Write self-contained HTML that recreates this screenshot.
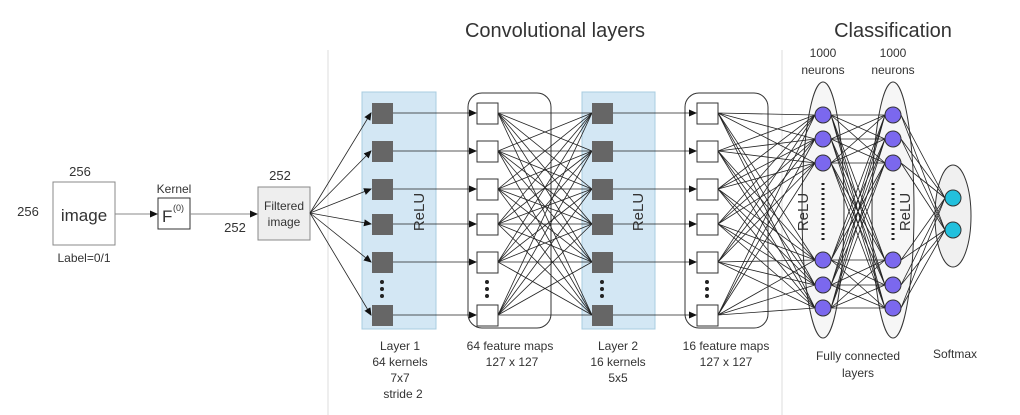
<!DOCTYPE html>
<html><head><meta charset="utf-8"><style>
body{margin:0;background:#fff;width:1020px;height:415px;overflow:hidden}
svg{display:block;font-family:"Liberation Sans",sans-serif}
</style></head><body>
<svg id="s" width="1020" height="415" viewBox="0 0 1020 415" xmlns="http://www.w3.org/2000/svg">
<defs><marker id="a" markerWidth="8" markerHeight="8" refX="7" refY="4" orient="auto" markerUnits="userSpaceOnUse"><path d="M0,0.5 L8,4 L0,7.5z" fill="#111"/></marker></defs>
<text x="555" y="37" font-size="20" text-anchor="middle" fill="#333">Convolutional layers</text>
<text x="893" y="37" font-size="20" text-anchor="middle" fill="#333">Classification</text>
<line x1="328" y1="50" x2="328" y2="415" stroke="#ddd"/>
<line x1="782" y1="50" x2="782" y2="415" stroke="#ddd"/>
<!-- left -->
<rect x="53" y="182" width="62" height="63" fill="#fff" stroke="#888"/>
<text x="84" y="221" font-size="17" text-anchor="middle" fill="#333">image</text>
<text x="80" y="176" font-size="13" text-anchor="middle" fill="#333">256</text>
<text x="28" y="216" font-size="13" text-anchor="middle" fill="#333">256</text>
<text x="84" y="262" font-size="12" text-anchor="middle" fill="#333">Label=0/1</text>
<line x1="115" y1="214" x2="157" y2="214" stroke="#888" marker-end="url(#a)"/>
<rect x="158" y="198" width="32" height="31" fill="#fff" stroke="#333"/>
<text x="162" y="222" font-size="17" fill="#333">F</text>
<text x="173" y="211" font-size="9" fill="#333">(0)</text>
<text x="174" y="193" font-size="12" text-anchor="middle" fill="#333">Kernel</text>
<line x1="190" y1="214" x2="257" y2="214" stroke="#888" marker-end="url(#a)"/>
<rect x="258" y="187" width="52" height="53" fill="#eee" stroke="#888"/>
<text x="284" y="210" font-size="12" text-anchor="middle" fill="#333">Filtered</text>
<text x="284" y="226" font-size="12" text-anchor="middle" fill="#333">image</text>
<text x="280" y="180" font-size="13" text-anchor="middle" fill="#333">252</text>
<text x="235" y="232" font-size="13" text-anchor="middle" fill="#333">252</text>
<!-- conv boxes -->
<rect x="362" y="92" width="74" height="237" fill="#d3e7f4" stroke="#a8cce0"/>
<rect x="582" y="92" width="73" height="237" fill="#d3e7f4" stroke="#a8cce0"/>
<rect x="468" y="93" width="83" height="235" rx="14" fill="none" stroke="#333"/>
<rect x="685" y="93" width="83" height="235" rx="14" fill="none" stroke="#333"/>
<text transform="translate(424,212) rotate(-90)" font-size="15" text-anchor="middle" fill="#333">ReLU</text>
<text transform="translate(643,212) rotate(-90)" font-size="15" text-anchor="middle" fill="#333">ReLU</text>
<!-- FC ellipses -->
<ellipse cx="823" cy="210" rx="21" ry="128" fill="#f6f6f6" stroke="#333"/>
<ellipse cx="893" cy="210" rx="21" ry="128" fill="#f6f6f6" stroke="#333"/>
<ellipse cx="953" cy="216" rx="18" ry="51" fill="#f0f0f0" stroke="#333"/>
<g id="lines" stroke="#222" stroke-width="0.8" fill="none"></g>
<g id="nodes"></g>
<text transform="translate(808,212) rotate(-90)" font-size="15" text-anchor="middle" fill="#333">ReLU</text>
<text transform="translate(910,212) rotate(-90)" font-size="15" text-anchor="middle" fill="#333">ReLU</text>
<line x1="823" y1="183" x2="823" y2="240" stroke="#222" stroke-width="3" stroke-dasharray="2 3"/>
<line x1="893" y1="183" x2="893" y2="240" stroke="#222" stroke-width="3" stroke-dasharray="2 3"/>
<g font-size="12" text-anchor="middle" fill="#333">
<text x="823" y="57">1000</text><text x="823" y="74">neurons</text>
<text x="893" y="57">1000</text><text x="893" y="74">neurons</text>
<text x="400" y="350">Layer 1</text><text x="400" y="366">64 kernels</text><text x="400" y="382">7x7</text><text x="403" y="398">stride 2</text>
<text x="510" y="350">64 feature maps</text><text x="512" y="366">127 x 127</text>
<text x="618" y="350">Layer 2</text><text x="618" y="366">16 kernels</text><text x="618" y="382">5x5</text>
<text x="726" y="350">16 feature maps</text><text x="726" y="366">127 x 127</text>
<text x="858" y="360">Fully connected</text><text x="858" y="377">layers</text>
<text x="955" y="358">Softmax</text>
</g>
</svg>
<script>
var NS="http://www.w3.org/2000/svg",L=document.getElementById('lines'),N=document.getElementById('nodes');
function el(p,t,a){var e=document.createElementNS(NS,t);for(var k in a)e.setAttribute(k,a[k]);p.appendChild(e);return e;}
function ln(x1,y1,x2,y2,arr){var a={x1:x1,y1:y1,x2:x2,y2:y2};if(arr)a['marker-end']='url(#a)';el(L,'line',a);}
var ys=[113,151,189,224,262,315],fy=[115,139,163,260,285,308];
ys.forEach(function(y){ln(310,213,371,y,1);ln(393,y,476,y,1);ln(613,y,696,y,1);});
ys.forEach(function(a){ys.forEach(function(b){ln(498,a,592,b);});fy.forEach(function(b){ln(718,a,815,b);});});
fy.forEach(function(a){fy.forEach(function(b){ln(831,a,885,b);});[198,230].forEach(function(b){ln(901,a,945,b);});});
ys.forEach(function(y){
 el(N,'rect',{x:372,y:y-10,width:21,height:21,fill:'#666'});
 el(N,'rect',{x:592,y:y-10,width:21,height:21,fill:'#666'});
 el(N,'rect',{x:477,y:y-10,width:21,height:21,fill:'#fff',stroke:'#333'});
 el(N,'rect',{x:697,y:y-10,width:21,height:21,fill:'#fff',stroke:'#333'});
});
[382,487,602,707].forEach(function(x){[282,289,296].forEach(function(y){el(N,'circle',{cx:x,cy:y,r:2,fill:'#222'});});});
fy.forEach(function(y){[823,893].forEach(function(x){el(N,'circle',{cx:x,cy:y,r:8,fill:'#7b68ee',stroke:'#333'});});});
[198,230].forEach(function(y){el(N,'circle',{cx:953,cy:y,r:8,fill:'#22c0dd',stroke:'#333'});});
</script>
</body></html>
